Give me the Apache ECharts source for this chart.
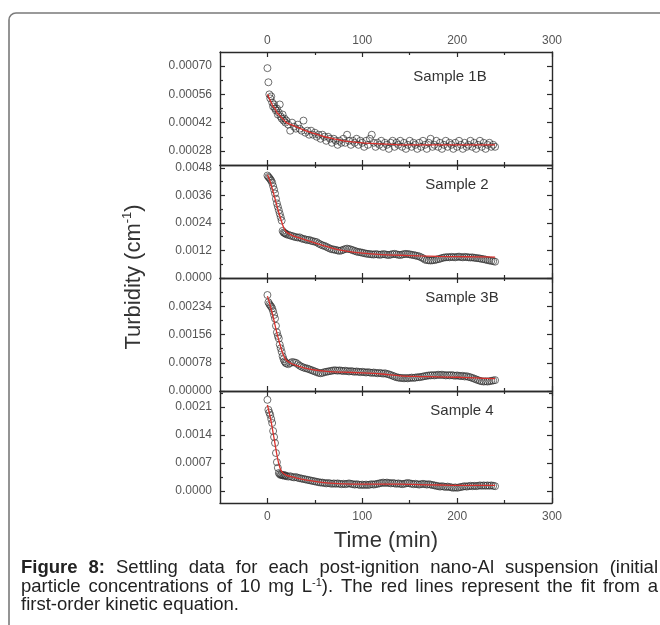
<!DOCTYPE html>
<html>
<head>
<meta charset="utf-8">
<script src="https://cdn.jsdelivr.net/npm/echarts@6.0.0/dist/echarts.min.js"></script>
<style>
html,body{margin:0;padding:0;background:#fff;}
#chart{width:660px;height:625px;}
</style>
</head>
<body>
<div id="chart"></div>
<script>
// ---------------- DATA ----------------
const timeMin = [0,1,2,3,4,5,6,7,8,9,10,11,12,13,14,15,16,17,18,19,20,
22,24,26,28,30,32,34,36,38,40,
42,44,46,48,50,52,54,56,58,60,
62,64,66,68,70,72,74,76,78,80,
82,84,86,88,90,92,94,96,98,100,
102,104,106,108,110,112,114,116,118,120,
122,124,126,128,130,132,134,136,138,140,
142,144,146,148,150,152,154,156,158,160,
162,164,166,168,170,172,174,176,178,180,
182,184,186,188,190,192,194,196,198,200,
202,204,206,208,210,212,214,216,218,220,
222,224,226,228,230,232,234,236,238,240];

const sample1B = [0.00069,0.00062,0.00056,0.00054,0.00055,0.00052,0.00050,0.00051,0.00049,0.00048,0.00049,0.00046,0.00047,0.00051,0.00045,0.00044,0.00046,0.00043,0.00044,0.00042,0.00043,
0.00041,0.00038,0.00042,0.00040,0.00039,0.00041,0.00039,0.00038,0.00043,0.00037,
0.00038,0.00036,0.00038,0.00036,0.00037,0.00035,0.00036,0.00034,0.00036,0.00035,
0.00033,0.00035,0.00034,0.00032,0.00034,0.00033,0.00031,0.00033,0.00032,0.00034,
0.00032,0.00036,0.00033,0.00031,0.00033,0.00032,0.00034,0.00031,0.00033,0.00032,
0.00030,0.00033,0.00031,0.00034,0.00036,0.00032,0.00030,0.00032,0.00031,0.00033,
0.00030,0.00032,0.00031,0.00029,0.00032,0.00033,0.00030,0.00032,0.00031,0.00033,
0.00030,0.00032,0.00029,0.00031,0.00033,0.00030,0.00032,0.00031,0.00029,0.00032,
0.00030,0.00033,0.00031,0.00029,0.00032,0.00034,0.00030,0.00031,0.00033,0.00030,
0.00032,0.00029,0.00031,0.00033,0.00030,0.00032,0.00031,0.00029,0.00032,0.00030,
0.00033,0.00031,0.00029,0.00032,0.00030,0.00031,0.00033,0.00030,0.00032,0.00029,
0.00031,0.00033,0.00030,0.00032,0.00029,0.00031,0.00032,0.00030,0.00031,0.00030];

const sample2 = [0.00446,0.00440,0.00436,0.00430,0.00424,0.00415,0.00400,0.00385,0.00368,0.00345,0.00325,0.00310,0.00295,0.00280,0.00265,0.00250,0.00205,0.00198,0.00196,0.00194,0.00190,
0.00188,0.00185,0.00183,0.00180,0.00178,0.00176,0.00177,0.00172,0.00170,0.00168,
0.00165,0.00166,0.00162,0.00160,0.00158,0.00156,0.00150,0.00146,0.00142,0.00140,
0.00136,0.00132,0.00128,0.00125,0.00124,0.00122,0.00120,0.00118,0.00120,0.00123,
0.00126,0.00128,0.00126,0.00124,0.00121,0.00118,0.00115,0.00113,0.00112,0.00110,
0.00108,0.00106,0.00105,0.00104,0.00103,0.00102,0.00104,0.00103,0.00101,0.00102,
0.00104,0.00103,0.00101,0.00100,0.00102,0.00104,0.00105,0.00103,0.00101,0.00100,
0.00102,0.00104,0.00105,0.00104,0.00103,0.00101,0.00100,0.00098,0.00096,0.00094,
0.00090,0.00086,0.00080,0.00078,0.00077,0.00076,0.00077,0.00078,0.00080,0.00082,
0.00084,0.00087,0.00089,0.00090,0.00091,0.00090,0.00092,0.00091,0.00090,0.00092,
0.00093,0.00091,0.00090,0.00092,0.00091,0.00090,0.00089,0.00090,0.00088,0.00087,
0.00086,0.00085,0.00083,0.00082,0.00080,0.00078,0.00076,0.00075,0.00073,0.00071];

const sample3B = [0.00265,0.00245,0.00240,0.00236,0.00233,0.00228,0.00220,0.00210,0.00200,0.00180,0.00162,0.00152,0.00145,0.00128,0.00118,0.00108,0.00096,0.00088,0.00082,0.00078,0.00076,
0.00074,0.00077,0.00080,0.00079,0.00078,0.00074,0.00070,0.00067,0.00065,0.00063,
0.00062,0.00060,0.00058,0.00056,0.00054,0.00052,0.00050,0.00049,0.00050,0.00052,
0.00053,0.00054,0.00055,0.00056,0.00057,0.00057,0.00056,0.00057,0.00056,0.00055,
0.00056,0.00055,0.00054,0.00055,0.00054,0.00053,0.00054,0.00053,0.00052,0.00053,
0.00052,0.00051,0.00052,0.00051,0.00050,0.00051,0.00050,0.00049,0.00050,0.00049,
0.00048,0.00049,0.00047,0.00046,0.00044,0.00042,0.00040,0.00038,0.00037,0.00036,
0.00036,0.00035,0.00036,0.00035,0.00036,0.00037,0.00036,0.00037,0.00038,0.00038,
0.00039,0.00040,0.00041,0.00042,0.00043,0.00043,0.00044,0.00043,0.00044,0.00045,
0.00044,0.00045,0.00044,0.00043,0.00044,0.00043,0.00044,0.00043,0.00042,0.00043,
0.00042,0.00041,0.00042,0.00040,0.00041,0.00039,0.00038,0.00036,0.00034,0.00032,
0.00030,0.00028,0.00027,0.00026,0.00027,0.00026,0.00027,0.00028,0.00029,0.00030];

const sample4 = [0.00228,0.00203,0.00196,0.00190,0.00180,0.00170,0.00150,0.00135,0.00120,0.00095,0.00072,0.00058,0.00045,0.00042,0.00040,0.00041,0.00039,0.00040,0.00038,0.00039,0.00037,
0.00036,0.00037,0.00035,0.00034,0.00035,0.00033,0.00032,0.00031,0.00030,0.00029,
0.00028,0.00027,0.00026,0.00025,0.00024,0.00023,0.00022,0.00021,0.00021,0.00020,
0.00019,0.00020,0.00019,0.00018,0.00019,0.00018,0.00019,0.00018,0.00017,0.00018,
0.00017,0.00018,0.00019,0.00018,0.00017,0.00016,0.00017,0.00016,0.00015,0.00016,
0.00015,0.00016,0.00015,0.00016,0.00017,0.00016,0.00017,0.00018,0.00019,0.00020,
0.00021,0.00020,0.00021,0.00020,0.00019,0.00020,0.00019,0.00018,0.00019,0.00018,
0.00017,0.00018,0.00019,0.00020,0.00019,0.00018,0.00017,0.00018,0.00017,0.00016,
0.00017,0.00018,0.00017,0.00016,0.00017,0.00016,0.00015,0.00014,0.00013,0.00012,
0.00011,0.00012,0.00011,0.00010,0.00011,0.00010,0.00009,0.00008,0.00009,0.00008,
0.00009,0.00010,0.00011,0.00012,0.00011,0.00012,0.00013,0.00012,0.00013,0.00012,
0.00013,0.00014,0.00013,0.00014,0.00013,0.00014,0.00013,0.00014,0.00013,0.00012];

// red first-order kinetic fit curves
const fitTime = [0,2,4,6,8,10,12,14,16,18,20,25,30,40,50,60,70,80,100,120,140,160,180,200,220,240];
const fit1B = [0.00056,0.00054,0.00052,0.00050,0.00049,0.00047,0.00046,0.00045,0.00044,0.00043,0.00042,0.00041,0.00040,0.00038,0.000365,0.00035,0.00034,0.00033,0.00032,0.000315,0.00031,0.00031,0.00031,0.00031,0.00031,0.00031];
const fit2 = [0.00450,0.00430,0.00405,0.00375,0.00345,0.00315,0.00285,0.00258,0.00232,0.00212,0.00200,0.00188,0.00179,0.00166,0.00153,0.00140,0.00128,0.00119,0.00108,0.00102,0.00099,0.00096,0.00094,0.00093,0.00092,0.00091];
const fit3B = [0.00262,0.00245,0.00225,0.00205,0.00182,0.00160,0.00140,0.00121,0.00105,0.00093,0.00085,0.00076,0.00071,0.00063,0.00058,0.00055,0.00053,0.00052,0.00050,0.00047,0.00042,0.00040,0.00039,0.00038,0.00036,0.00034];
const fit4 = [0.00215,0.00195,0.00172,0.00145,0.00118,0.00090,0.00068,0.00053,0.00046,0.00042,0.00039,0.00036,0.00033,0.00028,0.00024,0.00021,0.00019,0.00018,0.00017,0.00017,0.00017,0.00016,0.00015,0.00014,0.00014,0.00014];

// tick labels
const xTickLabels = [0,100,200,300];
const xMinorTicks = [50,150,250];
const sampleNames = ['Sample 1B','Sample 2','Sample 3B','Sample 4'];
const yTicks1B = [0.00028,0.00042,0.00056,0.00070];
const yMinor1B = [0.00035,0.00049,0.00063];
const yTicks2 = [0.0000,0.0012,0.0024,0.0036,0.0048];
const yMinor2 = [0.0006,0.0018,0.0030,0.0042];
const yTicks3B = [0.00000,0.00078,0.00156,0.00234];
const yMinor3B = [0.00039,0.00117,0.00195,0.00273];
const yTicks4 = [0.0000,0.0007,0.0014,0.0021];
const yMinor4 = [0.00035,0.00105,0.00175,0.00245];

// ---------------- LAYOUT ----------------
const FONT = '"Liberation Sans", Arial, Helvetica, sans-serif';
const axisColor = '#2a2a2a';
const tickLabelColor = '#555';
const panels = [
  {name: sampleNames[0], vals: sample1B, fit: fit1B, min: 0.00021, max: 0.00077, ticks: yTicks1B, minor: yMinor1B, dec: 5, top: 52, h: 113, lx: 450, ly: 77},
  {name: sampleNames[1], vals: sample2, fit: fit2, min: 0, max: 0.00492, ticks: yTicks2, minor: yMinor2, dec: 4, top: 165, h: 113, lx: 457, ly: 185},
  {name: sampleNames[2], vals: sample3B, fit: fit3B, min: 0, max: 0.00312, ticks: yTicks3B, minor: yMinor3B, dec: 5, top: 278, h: 113, lx: 462, ly: 298},
  {name: sampleNames[3], vals: sample4, fit: fit4, min: -0.0003, max: 0.0025, ticks: yTicks4, minor: yMinor4, dec: 4, top: 391, h: 112, lx: 462, ly: 411}
];
const plotLeft = 220, plotRight = 108;

const grids = [], xAxes = [], yAxes = [], series = [], graphics = [];

panels.forEach((p, g) => {
  grids.push({left: plotLeft, right: plotRight, top: p.top, height: p.h, containLabel: false});
  const xb = {gridIndex: g, type: 'value', min: -50, max: 300, splitLine: {show: false}};
  const lineOn = {show: true, onZero: false, lineStyle: {color: axisColor, width: 1.4}};
  const lineOff = {show: false, onZero: false};
  const lbl = (show, vals, margin) => ({show, customValues: vals, color: tickLabelColor, fontSize: 12, fontFamily: FONT, margin: margin});
  const tick = (len, vals) => ({show: true, inside: true, length: len, customValues: vals, lineStyle: {color: axisColor, width: 1.2}});
  xAxes.push(
    Object.assign({}, xb, {position: 'bottom', axisLine: lineOn, axisTick: tick(5, xTickLabels), axisLabel: lbl(g === 3, xTickLabels, 8)}),
    Object.assign({}, xb, {position: 'bottom', axisLine: lineOff, axisTick: tick(3, xMinorTicks), axisLabel: {show: false}}),
    Object.assign({}, xb, {position: 'top', axisLine: lineOn, axisTick: tick(5, xTickLabels), axisLabel: lbl(g === 0, xTickLabels, 5)}),
    Object.assign({}, xb, {position: 'top', axisLine: lineOff, axisTick: tick(3, xMinorTicks), axisLabel: {show: false}})
  );
  const yb = {gridIndex: g, type: 'value', min: p.min, max: p.max, splitLine: {show: false}};
  const ylbl = Object.assign(lbl(true, p.ticks, 8), {formatter: v => Number(v).toFixed(p.dec)});
  yAxes.push(
    Object.assign({}, yb, {position: 'left', axisLine: lineOn, axisTick: tick(5, p.ticks), axisLabel: ylbl}),
    Object.assign({}, yb, {position: 'left', axisLine: lineOff, axisTick: tick(3, p.minor), axisLabel: {show: false}}),
    Object.assign({}, yb, {position: 'right', axisLine: lineOn, axisTick: tick(5, p.ticks), axisLabel: {show: false}}),
    Object.assign({}, yb, {position: 'right', axisLine: lineOff, axisTick: tick(3, p.minor), axisLabel: {show: false}})
  );
  series.push({
    type: 'scatter', xAxisIndex: g * 4, yAxisIndex: g * 4,
    data: timeMin.map((t, i) => [t, p.vals[i]]),
    symbol: 'circle', symbolSize: 7,
    itemStyle: {color: 'rgba(255,255,255,0)', borderColor: 'rgba(45,45,45,0.85)', borderWidth: 1},
    z: 2, silent: true
  });
  series.push({
    type: 'line', xAxisIndex: g * 4, yAxisIndex: g * 4,
    data: fitTime.map((t, i) => [t, p.fit[i]]),
    showSymbol: false, smooth: 0.3,
    lineStyle: {color: '#d9302c', width: 1.3},
    z: 3, silent: true
  });
  graphics.push({type: 'text', x: p.lx, y: p.ly, z: 10,
    style: {text: p.name, fill: '#333', font: '15px ' + FONT, align: 'center', verticalAlign: 'middle'}});
});

// outer frame
graphics.push({type: 'rect', shape: {x: 9, y: 13, width: 720, height: 720, r: 7}, z: 0,
  style: {fill: 'none', stroke: '#7a7a7a', lineWidth: 1.6}});

// axis titles
graphics.push({type: 'text', x: 386, y: 541, z: 10,
  style: {text: 'Time (min)', fill: '#333', font: '22px ' + FONT, align: 'center', verticalAlign: 'middle'}});
graphics.push({type: 'text', x: 134, y: 277, rotation: Math.PI / 2, z: 10,
  style: {text: '{a|Turbidity (cm}{s|-1}{a|)}', align: 'center', verticalAlign: 'middle',
    rich: {a: {fontSize: 22, fontFamily: FONT, fill: '#333', color: '#333', lineHeight: 26},
           s: {fontSize: 13, fontFamily: FONT, fill: '#333', color: '#333', lineHeight: 14, verticalAlign: 'top'}}}});

// caption (justified)
const capSize = 18.5, capSup = 11, capLeft = 21, capRight = 658, capY = [568, 587, 605];
const captionLines = [
  {justify: true, words: [{t: 'Figure', b: true}, {t: '8:', b: true}, 'Settling', 'data', 'for', 'each', 'post-ignition', 'nano-Al', 'suspension', '(initial']},
  {justify: true, words: ['particle', 'concentrations', 'of', '10', 'mg', {t: 'L', sup: '-1', tail: ').'}, 'The', 'red', 'lines', 'represent', 'the', 'fit', 'from', 'a']},
  {justify: false, words: ['first-order', 'kinetic', 'equation.']}
];
const mctx = document.createElement('canvas').getContext('2d');
function mw(txt, size, bold) { mctx.font = (bold ? 'bold ' : '') + size + 'px ' + FONT; return mctx.measureText(txt).width; }
captionLines.forEach((line, li) => {
  const ws = line.words.map(w => typeof w === 'string' ? {t: w} : w);
  const widths = ws.map(w => w.sup ? mw(w.t, capSize) + mw(w.sup, capSup) + mw(w.tail, capSize) : mw(w.t, capSize, w.b));
  const total = widths.reduce((a, b) => a + b, 0);
  const gap = line.justify ? (capRight - capLeft - total) / (ws.length - 1) : mw(' ', capSize);
  let x = capLeft;
  ws.forEach((w, i) => {
    let style;
    if (w.sup) {
      style = {text: '{n|' + w.t + '}{s|' + w.sup + '}{n|' + w.tail + '}', align: 'left', verticalAlign: 'middle',
        rich: {n: {fontSize: capSize, fontFamily: FONT, fill: '#222', lineHeight: 20},
               s: {fontSize: capSup, fontFamily: FONT, fill: '#222', lineHeight: 11, verticalAlign: 'top'}}};
    } else {
      style = {text: w.t, fill: '#222', font: (w.b ? 'bold ' : '') + capSize + 'px ' + FONT, align: 'left', verticalAlign: 'middle'};
    }
    graphics.push({type: 'text', x: x, y: capY[li], z: 10, style});
    x += widths[i] + gap;
  });
});

const chart = echarts.init(document.getElementById('chart'), null, {renderer: 'canvas', width: 660, height: 625});
chart.setOption({
  animation: false,
  backgroundColor: '#fff',
  grid: grids,
  xAxis: xAxes,
  yAxis: yAxes,
  series: series,
  graphic: graphics
});
</script>
</body>
</html>
